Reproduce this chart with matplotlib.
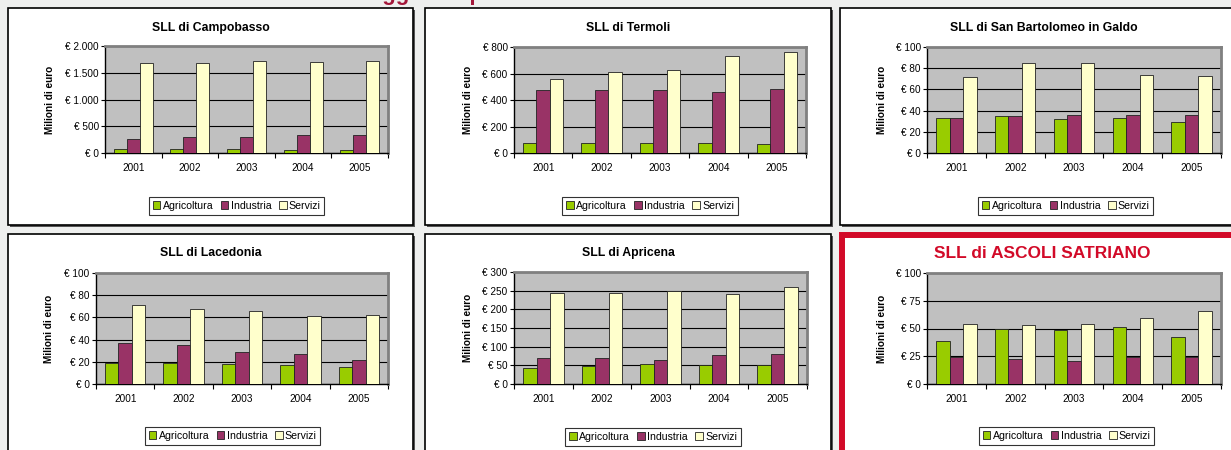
import matplotlib
matplotlib.use("Agg")
from matplotlib import pyplot as plt
from matplotlib.patches import Rectangle

plt.rcParams['font.family'] = ['Liberation Sans', 'DejaVu Sans']

W, H = 1231, 450

anni = ['2001', '2002', '2003', '2004', '2005']
settori = ['Agricoltura', 'Industria', 'Servizi']
colori = ['#99cc00', '#993366', '#ffffcc']

# Milioni di euro
campobasso_agr = [75, 75, 75, 55, 55]
campobasso_ind = [267, 304, 304, 329, 342]
campobasso_ser = [1683, 1683, 1714, 1702, 1714]

termoli_agr = [75, 75, 75, 75, 68]
termoli_ind = [478, 478, 478, 463, 483]
termoli_ser = [558, 614, 626, 732, 762]

sanbart_agr = [33, 35, 32, 33, 29]
sanbart_ind = [33, 35, 36, 36, 36]
sanbart_ser = [72, 85, 85, 74, 73]

lacedonia_agr = [18.6, 18.6, 18, 17.5, 15]
lacedonia_ind = [37, 35, 29, 27, 22]
lacedonia_ser = [71.6, 68, 66, 61, 62.5]

apricena_agr = [43, 49, 54, 51, 51]
apricena_ind = [69, 70, 65, 78, 81]
apricena_ser = [243, 243, 250, 242, 259]

ascoli_agr = [38.7, 49.5, 49, 51, 42.3]
ascoli_ind = [24.6, 22.5, 21, 24.6, 24.6]
ascoli_ser = [54, 53, 54, 59.5, 65.8]


def fx(x):
    return x / W


def fy(y):
    return 1 - y / H


def euro(v):
    return "€ {:,}".format(int(v)).replace(",", ".")


fig = plt.figure(figsize=(W / 100, H / 100), dpi=100)
fig.patch.set_facecolor('#eeefee')

# intestazione tagliata in alto
fig.text(fx(297), 1.0, 'Valore aggiunto per settore', color='#a3173a',
         fontsize=16, fontweight='bold', va='baseline', ha='left')

pannelli = [
    # titolo, dati, riquadro, area grafico, ymax, passo, legenda, x etichetta y
    ('SLL di Campobasso', (campobasso_agr, campobasso_ind, campobasso_ser),
     (8, 8, 413, 225), (105, 46, 388, 153), 2000, 500, (236.5, 206), 50),
    ('SLL di Termoli', (termoli_agr, termoli_ind, termoli_ser),
     (425, 8, 831, 225), (514, 47, 806, 153), 800, 200, (650, 206), 468),
    ('SLL di San Bartolomeo in Galdo', (sanbart_agr, sanbart_ind, sanbart_ser),
     (840, 8, 1247, 225), (927, 47, 1221, 153), 100, 20, (1065.5, 206), 882),
    ('SLL di Lacedonia', (lacedonia_agr, lacedonia_ind, lacedonia_ser),
     (8, 234, 413, 452), (96, 273, 388, 384), 100, 20, (232.5, 436), 49),
    ('SLL di Apricena', (apricena_agr, apricena_ind, apricena_ser),
     (425, 234, 831, 452), (514, 272, 807, 384), 300, 50, (653, 437), 468),
    ('SLL di ASCOLI SATRIANO', (ascoli_agr, ascoli_ind, ascoli_ser),
     (842, 235, 1260, 470), (927, 273, 1221, 384), 100, 25, (1066.5, 436), 882),
]

for i, (titolo, dati, box, area, ymax, passo, leg, lx) in enumerate(pannelli):
    evidenziato = i == 5
    x0, y0, x1, y1 = box
    if evidenziato:
        fig.add_artist(Rectangle((fx(x0), fy(y1)), fx(x1 - x0), (y1 - y0) / H,
                                 transform=fig.transFigure, facecolor='white',
                                 edgecolor='#d20a28', linewidth=4.3, zorder=-5))
    else:
        fig.add_artist(Rectangle((fx(x0 + 2), fy(y1 + 2)), fx(x1 - x0), (y1 - y0) / H,
                                 transform=fig.transFigure, facecolor='#555555',
                                 edgecolor='none', zorder=-6))
        fig.add_artist(Rectangle((fx(x0), fy(y1)), fx(x1 - x0), (y1 - y0) / H,
                                 transform=fig.transFigure, facecolor='white',
                                 edgecolor='black', linewidth=1.2, zorder=-5))

    ax0, ay0, ax1, ay1 = area
    ax = fig.add_axes([fx(ax0), fy(ay1), fx(ax1 - ax0), (ay1 - ay0) / H])
    ax.set_facecolor('#c0c0c0')
    xs = list(range(len(anni)))
    w = 0.23
    for k, serie in enumerate(dati):
        ax.bar([x + (k - 1) * w for x in xs], serie, width=w, color=colori[k],
               edgecolor='#222222', linewidth=0.6, label=settori[k], zorder=3)
    ax.set_xlim(-0.5, len(anni) - 0.5)
    ax.set_ylim(0, ymax)
    yt = list(range(0, ymax + 1, passo))
    ax.set_yticks(yt)
    ax.set_yticklabels([euro(v) for v in yt], fontsize=7.2)
    ax.set_xticks(xs)
    ax.set_xticklabels(anni, fontsize=7.2)
    ax.set_xticks([x + 0.5 for x in range(-1, len(anni))], minor=True)
    ax.tick_params(axis='x', which='major', length=0, pad=7)
    ax.tick_params(axis='x', which='minor', length=3.5, direction='out', width=0.8)
    ax.tick_params(axis='y', length=3, direction='out', width=0.8, pad=1.5)
    ax.grid(axis='y', color='black', linewidth=0.8, zorder=1)
    ax.set_axisbelow(True)
    for s in ('top', 'right'):
        ax.spines[s].set_color('#808080')
        ax.spines[s].set_linewidth(2)
    for s in ('left', 'bottom'):
        ax.spines[s].set_color('black')
        ax.spines[s].set_linewidth(1)

    cx = (x0 + x1) / 2 if not evidenziato else 1042
    ty = y0 + 20 if y0 < 100 else 253
    if evidenziato:
        fig.text(fx(cx), fy(ty), titolo, ha='center', va='center', fontsize=12.5,
                 fontweight='bold', color='#d20a28')
    else:
        fig.text(fx(cx), fy(ty), titolo, ha='center', va='center', fontsize=8.8,
                 fontweight='bold')

    fig.text(fx(lx), fy((ay0 + ay1) / 2), 'Milioni di euro', rotation=90,
             ha='center', va='center', fontsize=7.2, fontweight='bold')

    lg = ax.legend(loc='center', bbox_to_anchor=(fx(leg[0]), fy(leg[1])),
                   bbox_transform=fig.transFigure, ncol=3, fontsize=7.6,
                   frameon=True, fancybox=False, edgecolor='black',
                   handlelength=0.75, handleheight=0.75, handletextpad=0.2,
                   columnspacing=0.7, borderpad=0.35, borderaxespad=0)
    lg.get_frame().set_linewidth(0.8)

fig.savefig('out.png', dpi=100, facecolor=fig.get_facecolor())
